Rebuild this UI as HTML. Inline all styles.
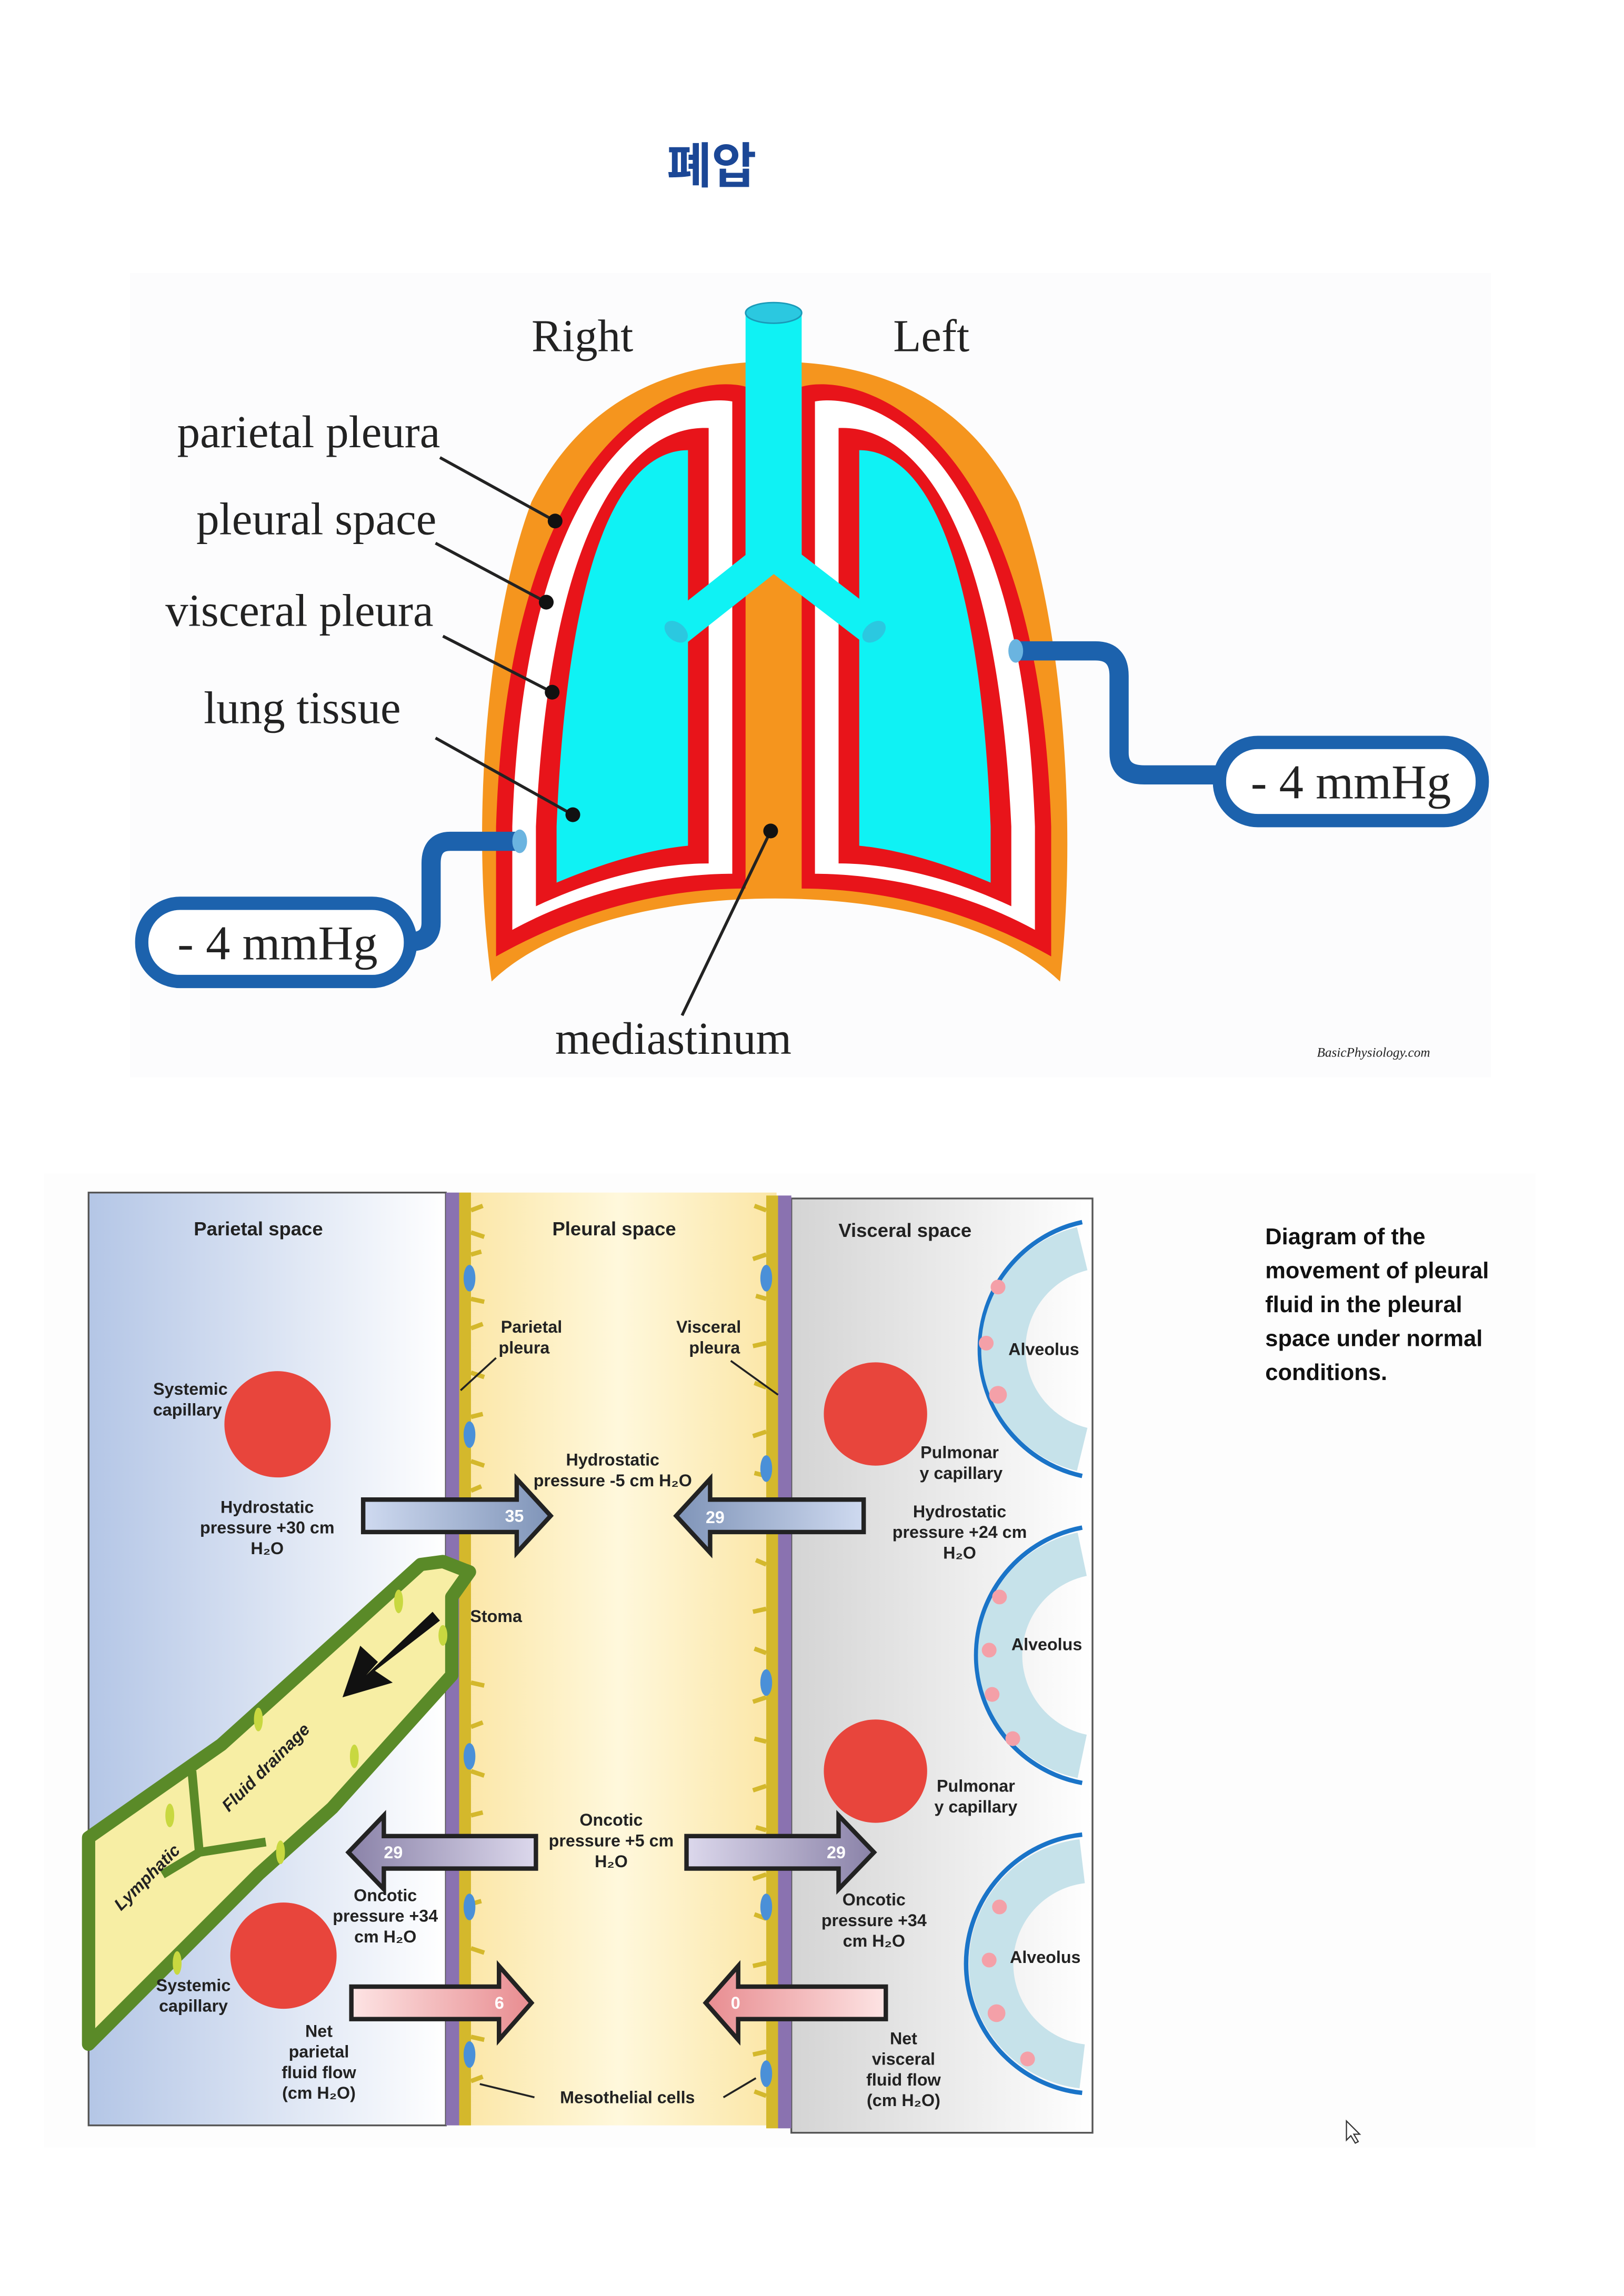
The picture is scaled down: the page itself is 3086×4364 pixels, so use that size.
<!DOCTYPE html>
<html><head><meta charset="utf-8"><style>
html,body{margin:0;padding:0;background:#fff}
svg{display:block}
.s{font-family:"Liberation Serif",serif;fill:#222}
.b{font-family:"Liberation Sans",sans-serif;font-weight:bold;fill:#222;font-size:11.5px}
</style></head><body>
<svg width="3086" height="4364" viewBox="0 0 1100 1555.6" preserveAspectRatio="none" xmlns="http://www.w3.org/2000/svg">
<defs>
<linearGradient id="gp" x1="0" x2="1"><stop offset="0" stop-color="#b4c6e6"/><stop offset="1" stop-color="#fff"/></linearGradient>
<linearGradient id="gy" x1="0" x2="1"><stop offset="0" stop-color="#fbe6a6"/><stop offset=".5" stop-color="#fff8dc"/><stop offset="1" stop-color="#fbe6a6"/></linearGradient>
<linearGradient id="gv" x1="0" x2="1"><stop offset="0" stop-color="#d4d4d4"/><stop offset="1" stop-color="#fff"/></linearGradient>
<linearGradient id="ab" x1="0" x2="1"><stop offset="0" stop-color="#cfdaf0"/><stop offset="1" stop-color="#7f94b8"/></linearGradient>
<linearGradient id="ab2" x1="1" x2="0"><stop offset="0" stop-color="#cfdaf0"/><stop offset="1" stop-color="#7f94b8"/></linearGradient>
<linearGradient id="ap" x1="1" x2="0"><stop offset="0" stop-color="#dcd8ec"/><stop offset="1" stop-color="#8a82a8"/></linearGradient>
<linearGradient id="ap2" x1="0" x2="1"><stop offset="0" stop-color="#dcd8ec"/><stop offset="1" stop-color="#8a82a8"/></linearGradient>
<linearGradient id="ak" x1="0" x2="1"><stop offset="0" stop-color="#fde4e4"/><stop offset="1" stop-color="#e88c90"/></linearGradient>
<linearGradient id="ak2" x1="1" x2="0"><stop offset="0" stop-color="#fde4e4"/><stop offset="1" stop-color="#e88c90"/></linearGradient>
<g id="lung">
<path d="M505,262 C470,252 345,280 336,560 L336,648 C400,612 460,602 505,602 Z" fill="#e8141a"/>
<path d="M496,272 C462,266 356,292 347,560 L347,630 C402,600 460,592 496,592 Z" fill="#fff"/>
<path d="M480,290 C440,288 374,328 363,560 L363,614 C410,592 450,585 480,585 Z" fill="#e8141a"/>
<path d="M466,305 C435,305 386,340 377,560 L377,598 C415,582 445,575 466,573 Z" fill="#0ff2f4"/>
</g>
</defs>
<text x="482" y="124" text-anchor="middle" font-family="'Liberation Sans','Noto Sans CJK KR',sans-serif" font-weight="bold" font-size="33" fill="#1b4796">폐압</text>
<rect x="88" y="185" width="922" height="545" fill="#fcfcfd"/>
<!-- orange body -->
<path d="M333,665 C318,560 330,420 360,340 C400,260 470,245 524,245 C580,245 650,260 690,340 C720,420 730,560 718,665 C640,590 410,590 333,665 Z" fill="#f5951e"/>
<use href="#lung"/>
<use href="#lung" transform="translate(1048,0) scale(-1,1)"/>
<!-- trachea -->
<path d="M524,375 L457,428 M524,375 L593,428" stroke="#0ff2f4" stroke-width="22" stroke-linecap="butt"/>
<path d="M524,375 L457,428 M524,375 L593,428" stroke="none"/>
<rect x="505" y="212" width="38" height="170" fill="#0ff2f4"/>
<ellipse cx="524" cy="212" rx="19" ry="7" fill="#2bc8e0" stroke="#1a9ab8" stroke-width="1"/>
<ellipse cx="458" cy="428" rx="6" ry="9" fill="#2bc8e0" transform="rotate(-50 458 428)"/>
<ellipse cx="592" cy="428" rx="6" ry="9" fill="#2bc8e0" transform="rotate(50 592 428)"/>
<!-- tubes -->
<path d="M690,441 L742,441 Q758,441 758,458 L758,510 Q758,525 775,525 L828,525" fill="none" stroke="#1c62ad" stroke-width="13"/>
<ellipse cx="688" cy="441" rx="5" ry="8" fill="#6ab4e0"/>
<rect x="826" y="503" width="178" height="53" rx="26" fill="#fff" stroke="#1c62ad" stroke-width="9"/>
<text x="915" y="541" text-anchor="middle" class="s" font-size="33">- 4 mmHg</text>
<path d="M350,570 L305,570 Q292,570 292,585 L292,625 Q292,638 278,638" fill="none" stroke="#1c62ad" stroke-width="13"/>
<ellipse cx="352" cy="570" rx="5" ry="8" fill="#6ab4e0"/>
<rect x="96" y="612" width="182" height="53" rx="26" fill="#fff" stroke="#1c62ad" stroke-width="9"/>
<text x="188" y="650" text-anchor="middle" class="s" font-size="33">- 4 mmHg</text>
<!-- labels -->
<text x="360" y="238" class="s" font-size="31">Right</text>
<text x="605" y="238" class="s" font-size="31">Left</text>
<text x="120" y="303" class="s" font-size="31">parietal pleura</text>
<text x="133" y="362" class="s" font-size="31">pleural space</text>
<text x="112" y="424" class="s" font-size="31">visceral pleura</text>
<text x="138" y="490" class="s" font-size="31">lung tissue</text>
<text x="376" y="714" class="s" font-size="31">mediastinum</text>
<text x="892" y="716" class="s" font-size="9" font-style="italic">BasicPhysiology.com</text>
<g stroke="#222" stroke-width="2"><line x1="298" y1="310" x2="376" y2="353"/><line x1="295" y1="368" x2="370" y2="408"/><line x1="300" y1="431" x2="374" y2="469"/><line x1="295" y1="500" x2="388" y2="552"/><line x1="462" y1="688" x2="522" y2="563"/></g>
<g fill="#111"><circle cx="376" cy="353" r="5"/><circle cx="370" cy="408" r="5"/><circle cx="374" cy="469" r="5"/><circle cx="388" cy="552" r="5"/><circle cx="522" cy="563" r="5"/></g>

<!-- bottom diagram -->
<rect x="30" y="795" width="1010" height="660" fill="#fdfdfd"/>
<rect x="60" y="808" width="242" height="632" fill="url(#gp)" stroke="#555" stroke-width="1.2"/>
<rect x="312" y="808" width="214" height="632" fill="url(#gy)"/>
<rect x="536" y="812" width="204" height="633" fill="url(#gv)" stroke="#555" stroke-width="1.2"/>
<rect x="302" y="808" width="9" height="632" fill="#8a72b0"/>
<rect x="527" y="810" width="9" height="632" fill="#8a72b0"/>
<rect x="311" y="808" width="8" height="632" fill="#d4b82c"/>
<rect x="519" y="810" width="8" height="632" fill="#d4b82c"/>
<g stroke="#d4b82c" stroke-width="3">
<path d="M319,820 l8,-3 M319,835 l9,3 M319,850 l7,-2 M319,880 l9,2 M319,900 l8,-3 M319,930 l9,3 M319,960 l8,-2 M319,990 l9,3 M319,1010 l7,-3 M319,1140 l9,2 M319,1170 l8,-3 M319,1200 l9,3 M319,1230 l8,-2 M319,1260 l9,3 M319,1290 l7,-2 M319,1320 l9,3 M319,1350 l8,-3 M319,1380 l9,2 M319,1410 l8,-3"/>
<path d="M519,820 l-8,-3 M519,850 l-9,3 M519,880 l-7,-2 M519,910 l-9,2 M519,940 l-8,-3 M519,970 l-9,3 M519,1000 l-8,-2 M519,1030 l-9,3 M519,1060 l-7,-3 M519,1090 l-9,2 M519,1120 l-8,-3 M519,1150 l-9,3 M519,1180 l-8,-2 M519,1210 l-9,3 M519,1240 l-7,-2 M519,1270 l-9,3 M519,1300 l-8,-3 M519,1330 l-9,2 M519,1360 l-8,-3 M519,1390 l-9,2 M519,1420 l-8,-3"/>
</g>
<g fill="#4a90d8"><ellipse cx="318" cy="866" rx="4" ry="9"/><ellipse cx="318" cy="972" rx="4" ry="9"/><ellipse cx="318" cy="1190" rx="4" ry="9"/><ellipse cx="318" cy="1292" rx="4" ry="9"/><ellipse cx="318" cy="1392" rx="4" ry="9"/><ellipse cx="519" cy="866" rx="4" ry="9"/><ellipse cx="519" cy="995" rx="4" ry="9"/><ellipse cx="519" cy="1140" rx="4" ry="9"/><ellipse cx="519" cy="1292" rx="4" ry="9"/><ellipse cx="519" cy="1405" rx="4" ry="9"/></g>
<!-- alveoli -->
<g fill="none">
<path d="M733,828 A88,88 0 0 0 733,1000" stroke="#1a74c8" stroke-width="3"/>
<path d="M733,846 A70,70 0 0 0 733,982" stroke="#c6e2ea" stroke-width="30"/>
<path d="M733,1035 A88,88 0 0 0 733,1208" stroke="#1a74c8" stroke-width="3"/>
<path d="M733,1053 A70,70 0 0 0 733,1190" stroke="#c6e2ea" stroke-width="30"/>
<path d="M733,1243 A88,88 0 0 0 733,1418" stroke="#1a74c8" stroke-width="3"/>
<path d="M733,1261 A70,70 0 0 0 733,1400" stroke="#c6e2ea" stroke-width="30"/>
</g>
<g fill="#f4a0a8"><circle cx="676" cy="872" r="5"/><circle cx="668" cy="910" r="5"/><circle cx="676" cy="945" r="6"/><circle cx="677" cy="1082" r="5"/><circle cx="670" cy="1118" r="5"/><circle cx="672" cy="1148" r="5"/><circle cx="686" cy="1178" r="5"/><circle cx="677" cy="1292" r="5"/><circle cx="670" cy="1328" r="5"/><circle cx="675" cy="1364" r="6"/><circle cx="696" cy="1395" r="5"/></g>
<g fill="#e8453c"><circle cx="188" cy="965" r="36"/><circle cx="192" cy="1325" r="36"/><circle cx="593" cy="958" r="35"/><circle cx="593" cy="1200" r="35"/></g>
<!-- lymphatic -->
<path d="M300,1058 L318,1065 L306,1082 L306,1135 L225,1225 L175,1270 L60,1385 L60,1245 L150,1182 L232,1108 L285,1060 Z" fill="#f7eea4" stroke="#5a8a28" stroke-width="9" stroke-linejoin="round"/>
<path d="M130,1200 L135,1255 L180,1248 M135,1255 L110,1270" fill="none" stroke="#5a8a28" stroke-width="6"/>
<g fill="#c8d840"><ellipse cx="270" cy="1085" rx="3" ry="8"/><ellipse cx="300" cy="1108" rx="3" ry="7"/><ellipse cx="175" cy="1165" rx="3" ry="8"/><ellipse cx="240" cy="1190" rx="3" ry="8"/><ellipse cx="115" cy="1230" rx="3" ry="8"/><ellipse cx="190" cy="1255" rx="3" ry="8"/><ellipse cx="120" cy="1330" rx="3" ry="8"/></g>
<path d="M293,1092 L248,1135 L256,1126 L244,1115 L232,1150 L266,1140 L254,1132 L298,1098 Z" fill="#111"/>
<text class="b" font-style="italic" transform="translate(155,1228) rotate(-45)">Fluid drainage</text>
<text class="b" font-style="italic" transform="translate(82,1295) rotate(-45)">Lymphatic</text>
<!-- arrows -->
<g stroke="#222" stroke-width="3" stroke-linejoin="miter">
<path d="M246,1016 L350,1016 L350,1002 L373,1027 L350,1052 L350,1038 L246,1038 Z" fill="url(#ab)"/>
<path d="M585,1016 L481,1016 L481,1002 L458,1027 L481,1052 L481,1038 L585,1038 Z" fill="url(#ab2)"/>
<path d="M363,1244 L260,1244 L260,1230 L236,1255 L260,1280 L260,1266 L363,1266 Z" fill="url(#ap)"/>
<path d="M465,1244 L568,1244 L568,1230 L592,1255 L568,1280 L568,1266 L465,1266 Z" fill="url(#ap2)"/>
<path d="M238,1346 L338,1346 L338,1332 L360,1357 L338,1382 L338,1368 L238,1368 Z" fill="url(#ak)"/>
<path d="M600,1346 L500,1346 L500,1332 L478,1357 L500,1382 L500,1368 L600,1368 Z" fill="url(#ak2)"/>
</g>
<g class="b" fill="#fff" style="fill:#fff"><text x="342" y="1031" style="fill:#fff">35</text><text x="478" y="1032" style="fill:#fff">29</text><text x="260" y="1259" style="fill:#fff">29</text><text x="560" y="1259" style="fill:#fff">29</text><text x="335" y="1361" style="fill:#fff">6</text><text x="495" y="1361" style="fill:#fff">0</text></g>
<g class="b" text-anchor="middle">
<text x="175" y="837" font-size="13">Parietal space</text>
<text x="416" y="837" font-size="13">Pleural space</text>
<text x="613" y="838" font-size="13">Visceral space</text>
<text x="360" y="903">Parietal</text><text x="355" y="917">pleura</text>
<text x="480" y="903">Visceral</text><text x="484" y="917">pleura</text>
<text x="129" y="945">Systemic</text><text x="127" y="959">capillary</text>
<text x="707" y="918">Alveolus</text><text x="709" y="1118">Alveolus</text><text x="708" y="1330">Alveolus</text>
<text x="650" y="988">Pulmonar</text><text x="651" y="1002">y capillary</text>
<text x="415" y="993">Hydrostatic</text><text x="415" y="1007">pressure -5 cm H₂O</text>
<text x="181" y="1025">Hydrostatic</text><text x="181" y="1039">pressure +30 cm</text><text x="181" y="1053">H₂O</text>
<text x="650" y="1028">Hydrostatic</text><text x="650" y="1042">pressure +24 cm</text><text x="650" y="1056">H₂O</text>
<text x="336" y="1099">Stoma</text>
<text x="661" y="1214">Pulmonar</text><text x="661" y="1228">y capillary</text>
<text x="414" y="1237">Oncotic</text><text x="414" y="1251">pressure +5 cm</text><text x="414" y="1265">H₂O</text>
<text x="261" y="1288">Oncotic</text><text x="261" y="1302">pressure +34</text><text x="261" y="1316">cm H₂O</text>
<text x="592" y="1291">Oncotic</text><text x="592" y="1305">pressure +34</text><text x="592" y="1319">cm H₂O</text>
<text x="131" y="1349">Systemic</text><text x="131" y="1363">capillary</text>
<text x="216" y="1380">Net</text><text x="216" y="1394">parietal</text><text x="216" y="1408">fluid flow</text><text x="216" y="1422">(cm H₂O)</text>
<text x="612" y="1385">Net</text><text x="612" y="1399">visceral</text><text x="612" y="1413">fluid flow</text><text x="612" y="1427">(cm H₂O)</text>
<text x="425" y="1425">Mesothelial cells</text>
</g>
<g stroke="#222" stroke-width="1.3"><line x1="336" y1="920" x2="312" y2="942"/><line x1="495" y1="922" x2="527" y2="945"/><line x1="325" y1="1412" x2="362" y2="1421"/><line x1="490" y1="1421" x2="512" y2="1408"/></g>
<g font-family="'Liberation Sans','Noto Sans CJK KR',sans-serif" font-weight="bold" font-size="15.5" fill="#111">
<text x="857" y="843">Diagram of the</text><text x="857" y="866">movement of pleural</text><text x="857" y="889">fluid in the pleural</text><text x="857" y="912">space under normal</text><text x="857" y="935">conditions.</text></g>
<path d="M912,1437 L912,1450 L915,1447 L918,1452 L920,1451 L917,1446 L921,1446 Z" fill="#fff" stroke="#333" stroke-width="0.8"/>
</svg>
</body></html>
